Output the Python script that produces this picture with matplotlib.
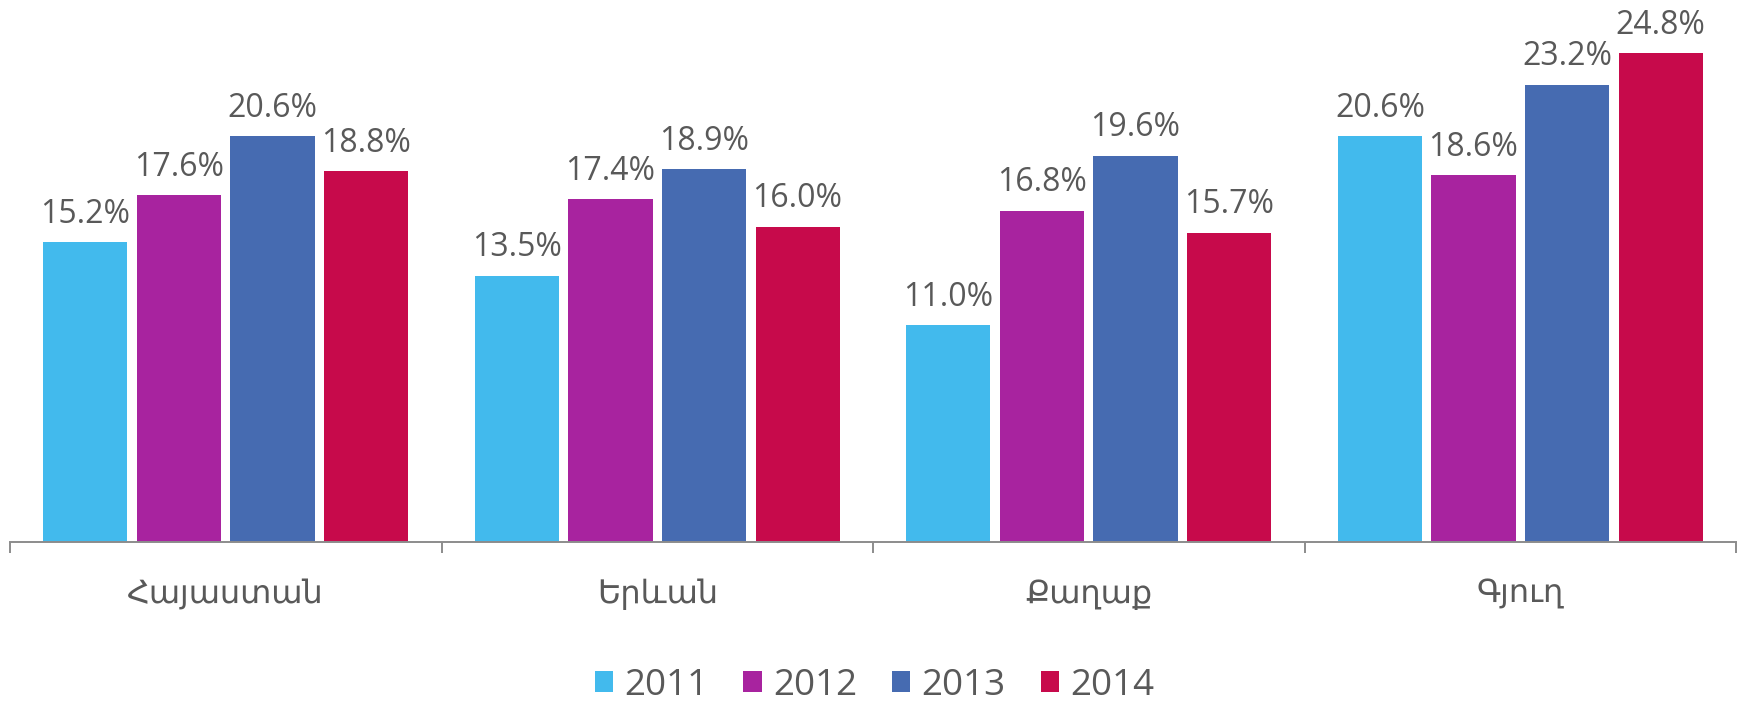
import matplotlib
matplotlib.use("Agg")
import matplotlib.pyplot as plt
from matplotlib.patches import Patch
from matplotlib.transforms import blended_transform_factory
import numpy as np

categories = ["Հայաստան", "Երևան", "Քաղաք", "Գյուղ"]
years = ["2011", "2012", "2013", "2014"]
values_2011 = [15.2, 13.5, 11.0, 20.6]
values_2012 = [17.6, 17.4, 16.8, 18.6]
values_2013 = [20.6, 18.9, 19.6, 23.2]
values_2014 = [18.8, 16.0, 15.7, 24.8]
series = [values_2011, values_2012, values_2013, values_2014]
colors = ["#42BAED", "#A8239F", "#466BB1", "#C70A4B"]

text_color = "#595959"
axis_color = "#8C8C8C"
fonts = ["Open Sans", "DejaVu Sans"]

W, H = 1742, 705
fig = plt.figure(figsize=(W / 100, H / 100), dpi=100)
ax = fig.add_axes([10 / W, 163 / H, 1726 / W, 542 / H])

x = np.arange(len(categories))
step = 0.2167
width = 0.1947
for j, (vals, col) in enumerate(zip(series, colors)):
    pos = x + (j - 1.5) * step
    bars = ax.bar(pos, vals, width=width, color=col, label=years[j], zorder=2)
    for b, v in zip(bars, vals):
        ax.annotate(f"{v:.1f}%", (b.get_x() + b.get_width() / 2, v),
                    xytext=(0, 14), textcoords="offset points",
                    ha="center", va="baseline", fontsize=23,
                    color=text_color, family=fonts)

ax.set_xlim(-0.5, len(categories) - 0.5)
ax.set_ylim(0, 27.5)

for s in ["top", "right", "left"]:
    ax.spines[s].set_visible(False)
ax.spines["bottom"].set_color(axis_color)
ax.spines["bottom"].set_linewidth(1.4)
ax.set_yticks([])

ax.set_xticks(np.arange(-0.5, len(categories)), minor=False)
ax.set_xticklabels([])
ax.tick_params(axis="x", length=8, width=1.4, color=axis_color, direction="out")

trans = blended_transform_factory(ax.transData, ax.transAxes)
for i, c in enumerate(categories):
    ax.text(i, -0.1125, c, transform=trans, ha="center", va="baseline",
            fontsize=23, color=text_color, family=fonts)

handles = [Patch(facecolor=c, edgecolor="none") for c in colors]
leg = fig.legend(handles, years, loc="center", bbox_to_anchor=(0.502, 0.027),
                 ncol=4, frameon=False,
                 handlelength=0.5, handleheight=0.5, handletextpad=0.3,
                 columnspacing=0.95, prop={"family": fonts, "size": 26.5})
for t in leg.get_texts():
    t.set_color(text_color)

fig.savefig("out.png", dpi=100, facecolor="white")
